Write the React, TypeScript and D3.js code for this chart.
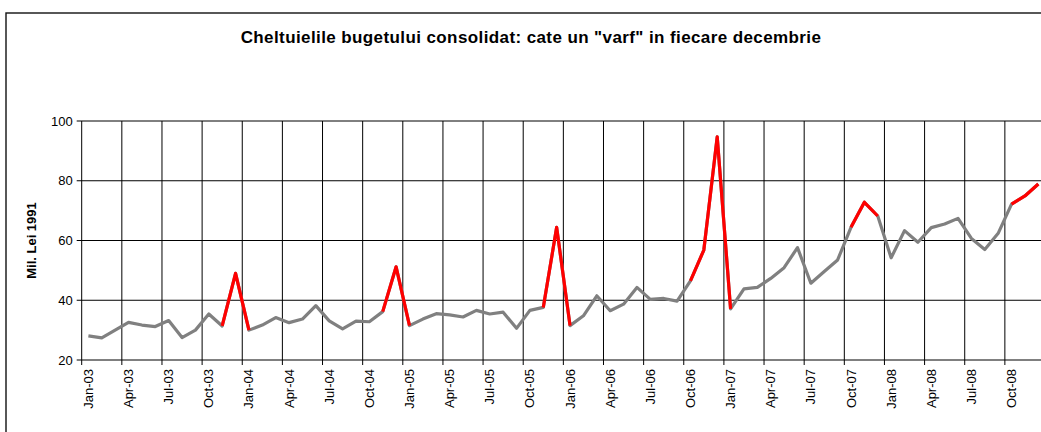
import React, { useRef, useEffect } from "react";
import * as d3 from "d3";

// monthly values, Jan-03 .. Dec-08 (Mil. Lei 1991)
const values2003 = [28.1, 27.4, 30.0, 32.6, 31.7, 31.2, 33.2, 27.5, 30.0, 35.4, 31.4, 49.0];
const values2004 = [30.0, 31.7, 34.2, 32.5, 33.7, 38.2, 33.1, 30.4, 33.0, 32.8, 36.2, 51.2];
const values2005 = [31.5, 33.7, 35.5, 35.1, 34.4, 36.6, 35.4, 36.0, 30.6, 36.6, 37.6, 64.4];
const values2006 = [31.5, 34.8, 41.5, 36.5, 38.7, 44.3, 40.3, 40.6, 39.7, 46.5, 56.8, 94.7];
const values2007 = [37.1, 43.8, 44.3, 47.3, 50.9, 57.6, 45.7, 49.6, 53.5, 64.4, 72.8, 68.2];
const values2008 = [54.2, 63.3, 59.4, 64.3, 65.5, 67.4, 60.7, 57.0, 62.4, 72.2, 74.9, 78.9];

const values = [
  ...values2003,
  ...values2004,
  ...values2005,
  ...values2006,
  ...values2007,
  ...values2008,
];

// month index ranges drawn in red (start, end)
const redRanges = [
  [10, 12],
  [22, 24],
  [34, 36],
  [45, 48],
  [57, 59],
  [69, 71],
];

// a label every 3 months
const tickLabels = [
  "Jan-03", "Apr-03", "Jul-03", "Oct-03",
  "Jan-04", "Apr-04", "Jul-04", "Oct-04",
  "Jan-05", "Apr-05", "Jul-05", "Oct-05",
  "Jan-06", "Apr-06", "Jul-06", "Oct-06",
  "Jan-07", "Apr-07", "Jul-07", "Oct-07",
  "Jan-08", "Apr-08", "Jul-08", "Oct-08",
];

const yTicks = [20, 40, 60, 80, 100];

const title = 'Cheltuielile bugetului consolidat: cate un "varf" in fiecare decembrie';
const yTitle = "Mil. Lei 1991";

const font = "'Liberation Sans', Arial, sans-serif";

const App = () => {
  const ref = useRef<SVGSVGElement | null>(null);
  const w = 1041,
    h = 432;
  const plot = { left: 81.7, right: 1045, top: 121, bottom: 360 };

  useEffect(() => {
    const svg = d3.select(ref.current);
    svg.selectAll("*").remove();

    const idx = values.map((_, i) => i);
    const x = d3
      .scaleBand<number>()
      .domain(idx)
      .range([plot.left, plot.right]);
    const cx = (i: number) => (x(i) as number) + x.bandwidth() / 2;
    const y = d3.scaleLinear().domain([20, 100]).range([plot.bottom, plot.top]);

    // outer chart frame
    svg
      .append("rect")
      .attr("x", 6)
      .attr("y", 13)
      .attr("width", 1100)
      .attr("height", 500)
      .attr("fill", "#fff")
      .attr("stroke", "#111")
      .attr("stroke-width", 1.4);

    svg
      .append("text")
      .attr("x", 531)
      .attr("y", 43)
      .attr("text-anchor", "middle")
      .attr("font-family", font)
      .attr("font-weight", "bold")
      .attr("font-size", 17)
      .attr("letter-spacing", 0.4)
      .text(title);

    // horizontal grid
    svg
      .append("g")
      .selectAll("line")
      .data(yTicks)
      .join("line")
      .attr("x1", plot.left - 5)
      .attr("x2", plot.right)
      .attr("y1", (d) => y(d))
      .attr("y2", (d) => y(d))
      .attr("stroke", "#000")
      .attr("stroke-width", 1);

    // vertical grid + x ticks at every 3rd category boundary
    const boundaries = tickLabels.map((_, k) => k * 3);
    svg
      .append("g")
      .selectAll("line")
      .data(boundaries)
      .join("line")
      .attr("x1", (d) => x(d) as number)
      .attr("x2", (d) => x(d) as number)
      .attr("y1", plot.top)
      .attr("y2", plot.bottom + 5)
      .attr("stroke", "#000")
      .attr("stroke-width", 1);

    // y tick labels
    svg
      .append("g")
      .selectAll("text")
      .data(yTicks)
      .join("text")
      .attr("x", plot.left - 9)
      .attr("y", (d) => y(d))
      .attr("dy", "0.35em")
      .attr("text-anchor", "end")
      .attr("font-family", font)
      .attr("font-size", 13)
      .text((d) => d);

    // x tick labels, rotated, centred on the category
    svg
      .append("g")
      .selectAll("text")
      .data(tickLabels)
      .join("text")
      .attr("transform", (_, k) => `translate(${cx(k * 3) + 4.5},${plot.bottom + 9}) rotate(-90)`)
      .attr("text-anchor", "end")
      .attr("font-family", font)
      .attr("font-size", 13)
      .text((d) => d);

    svg
      .append("text")
      .attr("transform", `translate(36,${(plot.top + plot.bottom) / 2}) rotate(-90)`)
      .attr("text-anchor", "middle")
      .attr("font-family", font)
      .attr("font-weight", "bold")
      .attr("font-size", 13)
      .text(yTitle);

    const line = d3
      .line<number>()
      .x((d, i) => cx(i))
      .y((d) => y(d));

    svg
      .append("path")
      .datum(values)
      .attr("fill", "none")
      .attr("stroke", "#808080")
      .attr("stroke-width", 3.2)
      .attr("stroke-linejoin", "round")
      .attr("d", line);

    const segLine = d3
      .line<number>()
      .x((i) => cx(i))
      .y((i) => y(values[i]));

    svg
      .append("g")
      .selectAll("path")
      .data(redRanges)
      .join("path")
      .attr("fill", "none")
      .attr("stroke", "#ff0000")
      .attr("stroke-width", 3.2)
      .attr("stroke-linejoin", "round")
      .attr("d", ([a, b]) => segLine(d3.range(a, b + 1)));
  }, []);

  return (
    <svg
      ref={ref}
      width={w}
      height={h}
      style={{ position: "absolute", left: 0, top: 0, background: "#fff" }}
    ></svg>
  );
};

export default App;
